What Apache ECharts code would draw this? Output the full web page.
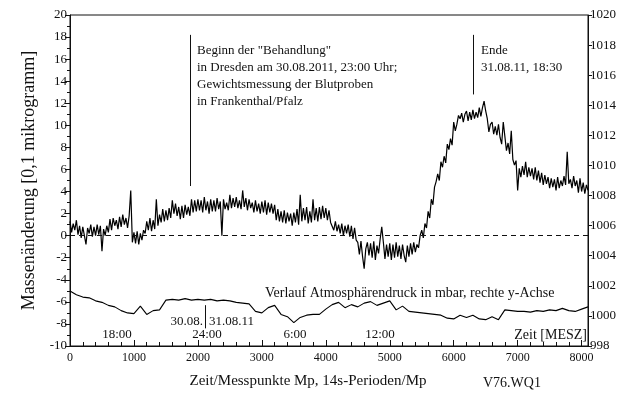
<!DOCTYPE html>
<html><head><meta charset="utf-8">
<script src="https://cdn.jsdelivr.net/npm/echarts@6/dist/echarts.min.js"></script>
<style>html,body{margin:0;padding:0;background:#fff}#c{width:640px;height:394px}</style>
</head><body><div id="c"></div>
<script>
// Mass change [0.1 microgram], sampled every 25 measurement points (0..8100)
const massStep = 25;
const massValues = [
1.3,0.3,1.1,0.5,1.4,0.1,0.9,-0.2,0.8,0.0,
-0.8,0.7,0.2,1.0,-0.1,0.8,0.0,1.0,0.1,0.9,
-1.4,0.6,0.0,0.9,0.3,1.5,0.5,1.6,0.9,1.4,
0.6,1.7,0.8,1.9,1.0,1.6,0.7,1.8,4.1,-0.6,
0.3,-0.7,0.4,-0.8,0.2,-0.4,0.5,0.2,1.3,0.5,
1.6,0.4,1.4,0.6,3.3,0.9,1.9,1.2,2.4,1.3,
2.3,1.4,2.5,1.6,3.2,2.0,2.9,1.8,2.6,1.5,
2.7,1.6,2.8,1.9,2.6,1.8,3.3,2.1,3.2,2.2,
3.3,2.3,3.2,2.1,3.5,2.3,3.1,2.0,3.3,2.2,
3.2,2.2,3.4,2.4,3.1,0.0,3.3,2.4,3.0,2.3,
3.7,2.5,3.4,2.6,3.5,2.5,3.2,2.4,4.1,2.6,
3.4,2.3,3.3,2.5,3.0,2.1,3.2,2.2,2.9,2.0,
3.1,2.1,3.2,1.9,3.0,2.1,2.9,2.0,2.8,1.4,
2.4,1.3,2.2,1.2,2.3,1.1,2.1,1.3,2.0,0.9,
2.1,1.2,2.4,1.0,3.7,1.3,2.5,1.4,2.6,1.1,
2.2,1.2,3.3,1.4,2.5,1.3,2.6,1.5,2.7,1.6,
2.5,1.4,2.3,1.2,1.1,0.5,1.3,0.4,1.0,0.2,
1.1,0.0,0.9,0.2,1.0,-0.1,0.9,-0.3,0.7,-0.4,
-0.6,-1.7,-0.5,-1.9,-3.0,-1.2,-0.6,-1.8,-0.7,-2.0,
-0.5,-2.2,-0.9,-1.6,-0.3,0.8,-0.6,-2.1,-0.8,-1.9,
-0.7,-2.2,-0.8,-2.0,-0.6,-1.9,-0.9,-2.1,-0.8,-1.8,
-2.4,-0.9,-1.9,-0.7,-1.7,-0.6,-1.5,-0.8,-1.1,0.0,
0.5,-0.2,1.1,0.7,2.2,1.6,3.3,2.8,4.4,4.9,
5.6,5.0,6.7,6.2,7.2,6.6,8.3,7.8,8.8,8.2,
10.3,9.5,10.1,10.9,10.6,11.1,10.3,11.0,11.3,10.4,
11.2,10.5,11.4,10.6,11.2,10.7,11.6,10.8,11.6,12.2,
11.3,10.6,9.4,10.1,10.3,9.2,9.9,9.1,10.1,8.9,
8.3,10.3,9.0,7.7,8.4,7.4,9.5,6.9,6.4,6.8,
4.1,6.1,5.3,6.3,5.5,6.7,5.3,6.2,5.4,6.1,
5.1,6.2,5.0,5.9,4.8,5.7,4.6,5.5,4.7,5.3,
4.3,5.2,4.4,5.1,4.1,5.3,4.3,5.0,4.5,5.4,
4.6,7.6,4.7,5.1,4.3,5.4,4.5,5.0,3.9,5.2,
4.0,4.8,3.8,4.6,4.1
];
// Atmospheric pressure [mbar], right axis, every 100 measurement points
const pressStep = 100;
const pressValues = [
1001.65,1001.4,1001.25,1001.2,1001.0,1000.9,1000.7,1000.6,1000.35,1000.2,
1000.15,1000.65,1000.1,1000.35,1000.4,1001.05,1001.1,1001.05,1001.15,1001.05,
1001.1,1001.05,1001.1,1001.0,1001.05,1001.0,1000.9,1000.85,1000.8,1000.3,
1000.2,1000.55,1000.7,1000.1,999.95,999.55,999.9,1000.05,1000.1,1000.1,
1000.45,1000.75,1000.9,1000.55,1000.75,1000.6,1000.85,1000.95,1000.7,1000.85,
1001.0,1000.4,1000.65,1000.3,1000.25,1000.2,1000.15,1000.1,1000.05,999.85,
999.8,1000.05,999.9,1000.05,999.8,999.75,999.95,999.75,1000.4,1000.35,
1000.3,1000.3,1000.25,1000.35,1000.3,1000.4,1000.35,1000.5,1000.35,1000.3,
1000.45,1000.6
];
// Annotation positions (measurement point) and texts
const startMarkX = 1875, startMarkY = [4.5, 18.2];
const endMarkX = 6300, endMarkY = [12.8, 18.2];
const dayMarkX = 2110, dayMarkY = [-8.4, -6.3];
const startText = ['Beginn der "Behandlung"','in Dresden am 30.08.2011, 23:00 Uhr;','Gewichtsmessung der Blutproben','in Frankenthal/Pfalz'];
const endText = ['Ende','31.08.11, 18:30'];

const massData = massValues.map((v,i)=>[i*massStep, v]);
const pressData = pressValues.map((v,i)=>[i*pressStep, v]);

const F = '"Liberation Serif", "DejaVu Serif", serif';
const chart = echarts.init(document.getElementById('c'), null, {renderer:'canvas'});
const txt = (x,y,t,size,align) => ({type:'text', x:x, y:y,
  style:{text:t, font: size+'px '+F, fill:'#111', textAlign:align||'left', textVerticalAlign:'middle'}});
const vline = (x, ys) => ({
  silent:true, symbol:'none', label:{show:false},
  lineStyle:{color:'#111', type:'solid', width:1},
  data:[[{coord:[x, ys[0]]},{coord:[x, ys[1]]}]]
});

chart.setOption({
  animation:false,
  backgroundColor:'#fff',
  grid:{left:70, right:52, top:15, bottom:46, show:true, borderColor:'#111', borderWidth:1},
  xAxis:{type:'value', min:0, max:8100, interval:1000,
    axisLine:{onZero:false, lineStyle:{color:'#111'}},
    axisTick:{inside:true, length:6, lineStyle:{color:'#111'}},
    minorTick:{show:true, splitNumber:5, length:4, lineStyle:{color:'#111'}},
    splitLine:{show:false},
    axisLabel:{color:'#111', fontFamily:F, fontSize:12, margin:6, showMaxLabel:false,
      formatter:v=> (v%1000===0 ? String(v) : '')},
    name:'Zeit/Messpunkte Mp, 14s-Perioden/Mp', nameLocation:'middle', nameGap:28,
    nameTextStyle:{color:'#111', fontFamily:F, fontSize:15, padding:[0,42,0,0]}
  },
  yAxis:[
    {type:'value', min:-10, max:20, interval:2,
      axisLine:{show:true, lineStyle:{color:'#111'}},
      axisTick:{length:5, lineStyle:{color:'#111'}},
      minorTick:{show:true, splitNumber:2, length:3, lineStyle:{color:'#111'}},
      splitLine:{show:false},
      axisLabel:{color:'#111', fontFamily:F, fontSize:13, margin:3},
      name:'Massenänderung [0,1 mikrogramm]', nameLocation:'middle', nameGap:32,
      nameTextStyle:{color:'#111', fontFamily:F, fontSize:18, padding:[0,0,0,0]}
    },
    {type:'value', min:998, max:1020, interval:2, position:'right',
      axisLine:{show:true, lineStyle:{color:'#111'}},
      axisTick:{length:4, lineStyle:{color:'#111'}},
      splitLine:{show:false},
      axisLabel:{color:'#111', fontFamily:F, fontSize:13, margin:2, formatter:v=>String(v)}
    }
  ],
  series:[
    {type:'line', name:'mass', data:massData, yAxisIndex:0, symbol:'none',
      lineStyle:{color:'#000', width:1.2},
      markLine:{silent:true, symbol:'none', label:{show:false},
        lineStyle:{color:'#111', type:[5,4], width:1},
        data:[{yAxis:0}]}
    },
    {type:'line', name:'start', data:[], yAxisIndex:0, markLine:vline(startMarkX, startMarkY)},
    {type:'line', name:'end', data:[], yAxisIndex:0, markLine:vline(endMarkX, endMarkY)},
    {type:'line', name:'day', data:[], yAxisIndex:0, markLine:vline(dayMarkX, dayMarkY)},
    {type:'line', name:'pressure', data:pressData, yAxisIndex:1, symbol:'none',
      lineStyle:{color:'#000', width:1.1}}
  ],
  graphic:[
    ...startText.map((t,i)=>txt(197, 51+i*16.7, t, 13)),
    ...endText.map((t,i)=>txt(481, 51+i*16.7, t, 13)),
    txt(265, 293, 'Verlauf Atmosphärendruck in mbar, rechte y-Achse', 14),
    txt(117, 335, '18:00', 13, 'center'),
    txt(203, 322, '30.08.', 13, 'right'),
    txt(209, 322, '31.08.11', 13, 'left'),
    txt(207, 335, '24:00', 13, 'center'),
    txt(295, 335, '6:00', 13, 'center'),
    txt(380, 335, '12:00', 13, 'center'),
    txt(587, 335, 'Zeit [MESZ]', 14, 'right'),
    txt(483, 383, 'V76.WQ1', 14, 'left')
  ]
});
</script></body></html>
